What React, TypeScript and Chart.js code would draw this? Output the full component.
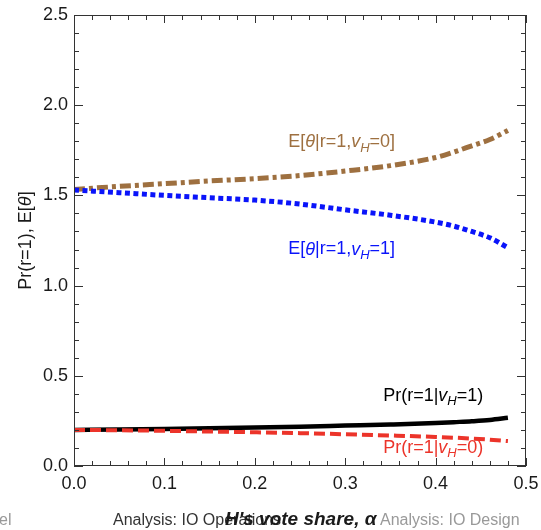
import React, { useEffect, useRef } from "react";
import { Chart, registerables } from "chart.js";

Chart.register(...registerables);

// ---- data ----
const alphaValues = [0, 0.05, 0.1, 0.15, 0.2, 0.25, 0.3, 0.35, 0.4, 0.42, 0.44, 0.46, 0.48];
const eThetaVH0 = [1.533, 1.55, 1.565, 1.58, 1.593, 1.61, 1.635, 1.665, 1.71, 1.74, 1.775, 1.81, 1.86];
const eThetaVH1 = [1.53, 1.515, 1.5, 1.487, 1.474, 1.452, 1.42, 1.39, 1.352, 1.33, 1.3, 1.265, 1.21];
const prVH1 = [0.2, 0.202, 0.205, 0.209, 0.213, 0.218, 0.224, 0.23, 0.238, 0.243, 0.248, 0.255, 0.267];
const prVH0 = [0.2, 0.198, 0.195, 0.191, 0.187, 0.182, 0.176, 0.169, 0.161, 0.157, 0.152, 0.146, 0.138];

const xMajorTicks = [0, 0.1, 0.2, 0.3, 0.4, 0.5];
const xTickLabels = ["0.0", "0.1", "0.2", "0.3", "0.4", "0.5"];
const yMajorTicks = [0, 0.5, 1.0, 1.5, 2.0, 2.5];
const yTickLabels = ["0.0", "0.5", "1.0", "1.5", "2.0", "2.5"];

const BROWN = "rgb(158,112,64)";
const BLUE = "rgb(10,20,250)";
const BLACK = "#000000";
const RED = "rgb(236,52,42)";

const FONT = '"Liberation Sans", Arial, Helvetica, sans-serif';

type Seg = { t: string; it?: boolean; sub?: boolean };

function drawRich(ctx: CanvasRenderingContext2D, segs: Seg[], x: number, y: number, size: number, color: string) {
  const subSize = Math.round(size * 0.72);
  const fontOf = (s: Seg) => `${s.it ? "italic " : ""}${s.sub ? subSize : size}px ${FONT}`;
  ctx.save();
  ctx.fillStyle = color;
  ctx.textBaseline = "middle";
  ctx.textAlign = "left";
  let cx = x;
  for (const s of segs) {
    ctx.font = fontOf(s);
    ctx.fillText(s.t, cx, s.sub ? y + size * 0.32 : y);
    cx += ctx.measureText(s.t).width;
  }
  ctx.restore();
}

const framePlugin = {
  id: "framePlugin",
  afterDraw(chart: any) {
    const ctx: CanvasRenderingContext2D = chart.ctx;
    const { left, right, top, bottom } = chart.chartArea;
    const xs = chart.scales.x;
    const ys = chart.scales.y;
    ctx.save();
    // frame
    ctx.strokeStyle = "#333";
    ctx.lineWidth = 1;
    ctx.strokeRect(left + 0.5, top + 0.5, right - left - 1, bottom - top - 1);
    // ticks
    ctx.beginPath();
    for (let i = 0; i < xMajorTicks.length; i++) {
      for (let k = 0; k < 5; k++) {
        const v = xMajorTicks[i] + k * 0.02;
        if (v > 0.5 + 1e-9) continue;
        const px = Math.round(xs.getPixelForValue(v)) + 0.5;
        const len = k === 0 ? 8 : 5;
        ctx.moveTo(px, bottom);
        ctx.lineTo(px, bottom - len);
        ctx.moveTo(px, top);
        ctx.lineTo(px, top + len);
      }
    }
    for (let i = 0; i < yMajorTicks.length; i++) {
      for (let k = 0; k < 5; k++) {
        const v = yMajorTicks[i] + k * 0.1;
        if (v > 2.5 + 1e-9) continue;
        const py = Math.round(ys.getPixelForValue(v)) + 0.5;
        const len = k === 0 ? 9 : 5;
        ctx.moveTo(left, py);
        ctx.lineTo(left + len, py);
        ctx.moveTo(right, py);
        ctx.lineTo(right - len, py);
      }
    }
    ctx.stroke();

    // tick labels
    ctx.fillStyle = "#1a1a1a";
    ctx.font = `18px ${FONT}`;
    ctx.textAlign = "center";
    ctx.textBaseline = "middle";
    xMajorTicks.forEach((v, i) => {
      ctx.fillText(xTickLabels[i], xs.getPixelForValue(v), bottom + 18);
    });
    ctx.textAlign = "right";
    yMajorTicks.forEach((v, i) => {
      ctx.fillText(yTickLabels[i], left - 6, ys.getPixelForValue(v));
    });

    // y axis title (rotated)
    ctx.save();
    ctx.translate(26, (top + bottom) / 2);
    ctx.rotate(-Math.PI / 2);
    const ySegs: Seg[] = [{ t: "Pr(r=1), E[" }, { t: "θ", it: true }, { t: "]" }];
    let w = 0;
    for (const s of ySegs) {
      ctx.font = `${s.it ? "italic " : ""}18px ${FONT}`;
      w += ctx.measureText(s.t).width;
    }
    drawRich(ctx, ySegs, -w / 2, 0, 18, "#1a1a1a");
    ctx.restore();

    // curve annotations
    drawRich(ctx, [{ t: "E[" }, { t: "θ", it: true }, { t: "|r=1," }, { t: "v", it: true }, { t: "H", it: true, sub: true }, { t: "=0]" }],
      xs.getPixelForValue(0.237), ys.getPixelForValue(1.794), 18, BROWN);
    drawRich(ctx, [{ t: "E[" }, { t: "θ", it: true }, { t: "|r=1," }, { t: "v", it: true }, { t: "H", it: true, sub: true }, { t: "=1]" }],
      xs.getPixelForValue(0.237), ys.getPixelForValue(1.2), 18, BLUE);
    drawRich(ctx, [{ t: "Pr(r=1|" }, { t: "v", it: true }, { t: "H", it: true, sub: true }, { t: "=1)" }],
      xs.getPixelForValue(0.342), ys.getPixelForValue(0.389), 18, BLACK);
    drawRich(ctx, [{ t: "Pr(r=1|" }, { t: "v", it: true }, { t: "H", it: true, sub: true }, { t: "=0)" }],
      xs.getPixelForValue(0.342), ys.getPixelForValue(0.1), 18, RED);

    // page fragments at the bottom
    ctx.textAlign = "left";
    ctx.textBaseline = "middle";
    ctx.font = `16px ${FONT}`;
    ctx.fillStyle = "#999";
    ctx.fillText("el", -1, 521);
    ctx.fillStyle = "#333";
    ctx.fillText("Analysis: IO Operations", 113, 521);
    // x axis title
    ctx.fillStyle = "#1a1a1a";
    ctx.font = `italic bold 19px ${FONT}`;
    ctx.fillText("H's vote share, α", 225, 520);
    ctx.font = `16px ${FONT}`;
    ctx.fillStyle = "#999";
    ctx.fillText("Analysis: IO Design", 380, 521);
    ctx.restore();
  },
};

export default function App() {
  const ref = useRef<HTMLCanvasElement | null>(null);
  useEffect(() => {
    if (!ref.current) return;
    const mk = (vals: number[]) => alphaValues.map((a, i) => ({ x: a, y: vals[i] }));
    const chart = new Chart(ref.current, {
      type: "line",
      data: {
        datasets: [
          { data: mk(prVH0), borderColor: RED, borderWidth: 4, borderDash: [11, 5], pointRadius: 0, cubicInterpolationMode: "monotone" },
          { data: mk(prVH1), borderColor: BLACK, borderWidth: 4.5, pointRadius: 0, cubicInterpolationMode: "monotone" },
          { data: mk(eThetaVH1), borderColor: BLUE, borderWidth: 5, borderDash: [5, 3.5], pointRadius: 0, cubicInterpolationMode: "monotone" },
          { data: mk(eThetaVH0), borderColor: BROWN, borderWidth: 5, borderDash: [11, 4, 4, 4], pointRadius: 0, cubicInterpolationMode: "monotone" },
        ] as any,
      },
      options: {
        responsive: false,
        animation: false,
        devicePixelRatio: 1,
        layout: { padding: { left: 74, right: 15, top: 15, bottom: 64 } },
        plugins: { legend: { display: false }, tooltip: { enabled: false } },
        scales: {
          x: { type: "linear", display: false, min: 0, max: 0.5 },
          y: { type: "linear", display: false, min: 0, max: 2.5 },
        },
      } as any,
      plugins: [framePlugin],
    });
    return () => chart.destroy();
  }, []);
  return (
    <div style={{ position: "fixed", left: 0, top: 0, width: 541, height: 530, background: "#fff" }}>
      <canvas ref={ref} width={541} height={530} style={{ display: "block" }} />
    </div>
  );
}
